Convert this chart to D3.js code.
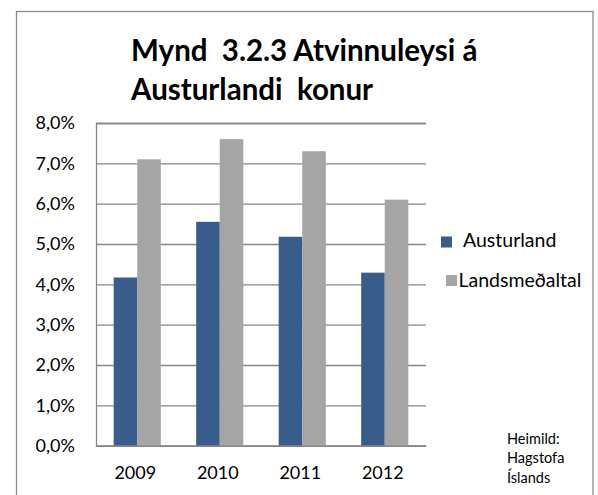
<!DOCTYPE html>
<html>
<head>
<meta charset="utf-8">
<script src="https://cdn.jsdelivr.net/npm/d3@7"></script>
<style>
  body { margin: 0; background: #fff; }
  text { font-family: Lato, "Open Sans", sans-serif; }
</style>
</head>
<body>
<div id="chart"></div>
<script>
(() => {

// data
const years = ["2009", "2010", "2011", "2012"];
const seriesNames = ["Austurland", "Landsmeðaltal"];
const austurland = [4.17, 5.55, 5.18, 4.29];
const landsmedaltal = [7.1, 7.6, 7.3, 6.1];
const yTicks = [0, 1, 2, 3, 4, 5, 6, 7, 8];
const titleLines = ["Mynd  3.2.3 Atvinnuleysi á", "Austurlandi  konur"];
const sourceLines = ["Heimild:", "Hagstofa", "Íslands"];

const colors = ["#385D8A", "#A5A5A5"];
const gridColor = "#868686";

const width = 598, height = 495;
const plot = { left: 96, right: 426, top: 123, bottom: 445.7 };

const svg = d3.select("#chart")
  .append("svg")
  .attr("width", width)
  .attr("height", height);

// outer frame
svg.append("rect")
  .attr("x", 16.5)
  .attr("y", 11.5)
  .attr("width", 576.5)
  .attr("height", 500)
  .attr("fill", "none")
  .attr("stroke", "#8c8c8c")
  .attr("stroke-width", 1.3);

// scales
const x0 = d3.scaleBand()
  .domain(years)
  .range([plot.left, plot.right]);

const x1 = d3.scaleBand()
  .domain(seriesNames)
  .range([0, x0.bandwidth()])
  .paddingOuter(0.75);

const y = d3.scaleLinear()
  .domain([0, 8])
  .range([plot.bottom, plot.top]);

// gridlines + y labels
const yAxis = svg.append("g")
  .attr("transform", `translate(${plot.left},0)`)
  .call(d3.axisLeft(y)
    .tickValues(yTicks)
    .tickSize(-(plot.right - plot.left))
    .tickPadding(21)
    .tickFormat(d => d.toFixed(1).replace(".", ",") + "%"));

yAxis.select(".domain").attr("stroke", gridColor).attr("stroke-width", 1.3);
yAxis.selectAll(".tick line").attr("stroke", gridColor).attr("stroke-width", 1.3);
yAxis.selectAll(".tick text")
  .attr("fill", "#000")
  .style("font-size", "18px");

// bars
const rows = years.map((yr, i) => ({ year: yr, values: [austurland[i], landsmedaltal[i]] }));

const groups = svg.append("g")
  .selectAll("g")
  .data(rows)
  .join("g")
  .attr("transform", d => `translate(${x0(d.year)},0)`);

groups.selectAll("rect")
  .data(d => d.values.map((v, j) => ({ key: seriesNames[j], value: v, j })))
  .join("rect")
  .attr("x", d => x1(d.key))
  .attr("y", d => y(d.value))
  .attr("width", x1.bandwidth())
  .attr("height", d => y(0) - y(d.value))
  .attr("fill", d => colors[d.j]);

// x axis
const xAxis = svg.append("g")
  .attr("transform", `translate(0,${plot.bottom})`)
  .call(d3.axisBottom(x0).tickSize(0).tickPadding(21));

xAxis.select(".domain").attr("stroke", gridColor).attr("stroke-width", 1.3);
xAxis.selectAll(".tick text")
  .attr("fill", "#000")
  .attr("dx", "-2")
  .style("font-size", "18px");

// title
svg.append("text")
  .style("font-size", "29.5px")
  .style("font-weight", "bold")
  .style("white-space", "pre")
  .selectAll("tspan")
  .data(titleLines)
  .join("tspan")
  .attr("x", 131)
  .attr("y", (d, i) => 61 + i * 38.5)
  .text(d => d);

// legend
const legendPos = [
  { sx: 441, sy: 236.5, tx: 463, ty: 247 },
  { sx: 446, sy: 275, tx: 458.5, ty: 287 }
];
const legend = svg.append("g")
  .selectAll("g")
  .data(seriesNames)
  .join("g");

legend.append("rect")
  .attr("x", (d, i) => legendPos[i].sx)
  .attr("y", (d, i) => legendPos[i].sy)
  .attr("width", 11)
  .attr("height", 11)
  .attr("fill", (d, i) => colors[i]);

legend.append("text")
  .attr("x", (d, i) => legendPos[i].tx)
  .attr("y", (d, i) => legendPos[i].ty)
  .style("font-size", "19.5px")
  .text(d => d);

// source note
svg.append("g")
  .selectAll("text")
  .data(sourceLines)
  .join("text")
  .attr("x", 507)
  .attr("y", (d, i) => 444 + i * 19.3)
  .style("font-size", "14.5px")
  .text(d => d);

})();
</script>
</body>
</html>
